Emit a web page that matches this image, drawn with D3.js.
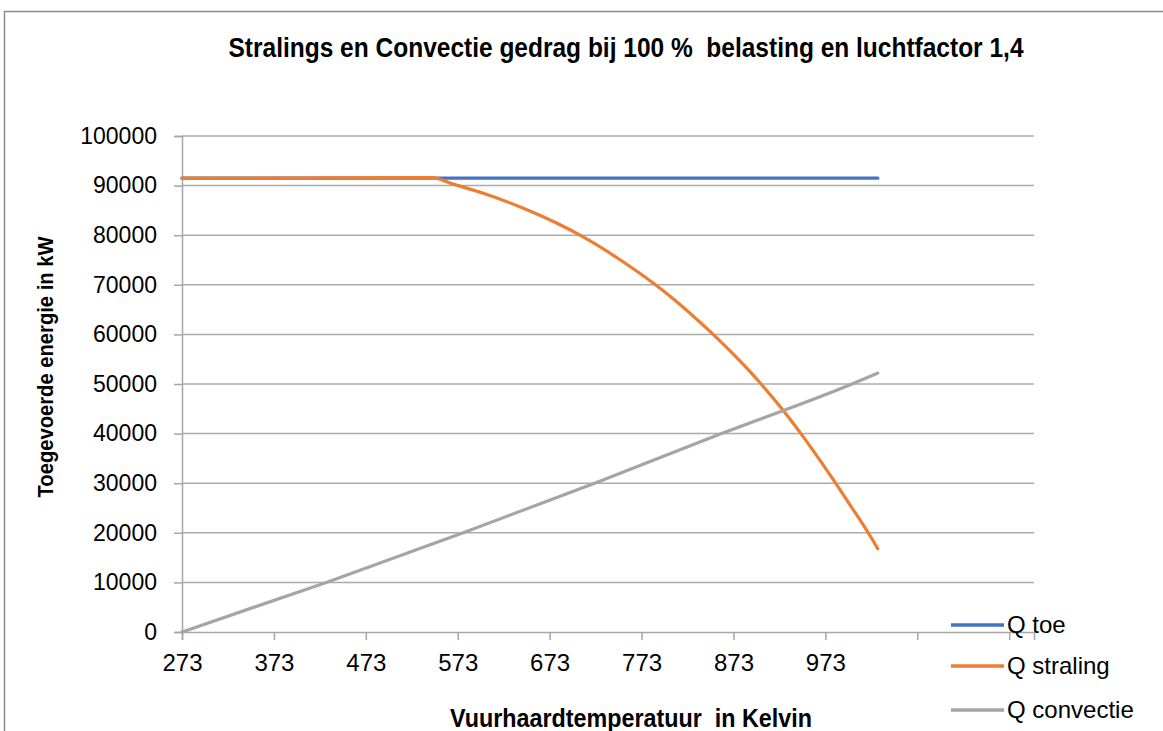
<!DOCTYPE html>
<html lang="nl">
<head>
    <meta charset="utf-8">
    <script src='https://d3js.org/d3.v7.min.js'></script>
</head>
<style>
  body { margin: 0; background: #fff; }
  svg text { fill: #000; }
</style>
<body>
<script>
// Size of the picture
const width = 1163; const height = 731;

// Data (temperature in Kelvin, energy in kW)
const toeTemp = [273, 1030];
const toeValue = [91500, 91500];

const stralingTemp = [273, 545, 568, 600, 641, 680, 710, 750, 786, 804, 848, 875, 904, 927, 946, 982, 1000, 1022, 1030];
const stralingValue = [91500, 91600, 90300, 88500, 85700, 82500, 79600, 75000, 70300, 67700, 60500, 55600, 49800, 44700, 40100, 30600, 25600, 19300, 16800];

const convectieTemp = [273, 430, 579, 722, 860, 1002, 1030];
const convectieValue = [0, 10000, 20000, 30000, 40000, 50000, 52200];

const xTicks = [273, 373, 473, 573, 673, 773, 873, 973, 1073, 1173];
const xLabelled = [273, 373, 473, 573, 673, 773, 873, 973];
const yTicks = d3.range(0, 100001, 10000);

const seriesNames = ["Q toe", "Q straling", "Q convectie"];
const seriesColors = ["#4472C4", "#ED7D31", "#A5A5A5"];

const title = "Stralings en Convectie gedrag bij 100 %  belasting en luchtfactor 1,4";
const xTitle = "Vuurhaardtemperatuur  in Kelvin";
const yTitle = "Toegevoerde energie in kW";

const svg = d3.select("body")
  .append("svg")
  .attr("width", width)
  .attr("height", height);

// chart frame
svg.append("path")
  .attr("d", "M4.5," + height + "V11.5H" + width)
  .attr("fill", "none")
  .attr("stroke", "#8c8c8c")
  .attr("stroke-width", 1.5);

// scales
const x = d3.scaleLinear().domain([273, 1200]).range([182, 1034]);
const y = d3.scaleLinear().domain([0, 100000]).range([632, 136]);

// horizontal gridlines
svg.append("g")
  .selectAll("line")
  .data(yTicks.filter(d => d > 0))
  .enter()
  .append("line")
  .attr("x1", x.range()[0])
  .attr("x2", x.range()[1])
  .attr("y1", d => y(d))
  .attr("y2", d => y(d))
  .attr("stroke", "#ababab")
  .attr("stroke-width", 1.5);

// y axis
const yAxis = svg.append("g")
  .attr("transform", "translate(" + x.range()[0] + ",0)")
  .call(d3.axisLeft(y).tickValues(yTicks).tickSize(8).tickPadding(17).tickFormat(d3.format("d")));
yAxis.selectAll("text")
  .style("font-family", "'Liberation Sans', Arial, sans-serif")
  .style("font-size", "23px")
  .attr("fill", "#000");

// x axis
const xAxis = svg.append("g")
  .attr("transform", "translate(0," + y(0) + ")")
  .call(d3.axisBottom(x).tickValues(xTicks).tickSize(8).tickPadding(14)
    .tickFormat(d => xLabelled.includes(d) ? d : ""));
xAxis.selectAll("text")
  .style("font-family", "'Liberation Sans', Arial, sans-serif")
  .style("font-size", "24px")
  .attr("fill", "#000");

svg.selectAll(".domain, .tick line")
  .attr("stroke", "#a6a6a6")
  .attr("stroke-width", 1.5);

// the three series
const line = d3.line()
  .curve(d3.curveMonotoneX)
  .x(d => x(d[0]))
  .y(d => y(d[1]));

const seriesData = [
  d3.zip(toeTemp, toeValue),
  d3.zip(stralingTemp, stralingValue),
  d3.zip(convectieTemp, convectieValue)
];

seriesData.forEach(function(data, i) {
  svg.append("path")
    .datum(data)
    .attr("fill", "none")
    .attr("stroke", seriesColors[i])
    .attr("stroke-width", 3.2)
    .attr("stroke-linejoin", "round")
    .attr("stroke-linecap", "round")
    .attr("d", line);
});

// legend
const legend = svg.append("g")
  .selectAll("g")
  .data(seriesNames)
  .enter()
  .append("g")
  .attr("transform", (d, i) => "translate(951," + [625, 666, 710][i] + ")");
legend.append("line")
  .attr("x1", 0).attr("x2", 53)
  .attr("stroke", (d, i) => seriesColors[i])
  .attr("stroke-width", 3.5);
legend.append("text")
  .attr("x", 56)
  .attr("dy", "0.35em")
  .style("font-family", "'Liberation Sans', Arial, sans-serif")
  .style("font-size", "24px")
  .text(d => d);

// titles
svg.append("text")
  .attr("x", 626)
  .attr("y", 57)
  .attr("text-anchor", "middle")
  .attr("textLength", 795)
  .attr("lengthAdjust", "spacingAndGlyphs")
  .style("white-space", "pre")
  .style("font-family", "'Liberation Sans', Arial, sans-serif")
  .style("font-weight", "bold")
  .style("font-size", "28px")
  .text(title);

svg.append("text")
  .attr("x", 631)
  .attr("y", 727)
  .attr("text-anchor", "middle")
  .attr("textLength", 362)
  .attr("lengthAdjust", "spacingAndGlyphs")
  .style("white-space", "pre")
  .style("font-family", "'Liberation Sans', Arial, sans-serif")
  .style("font-weight", "bold")
  .style("font-size", "25px")
  .text(xTitle);

svg.append("text")
  .attr("transform", "translate(53,367) rotate(-90)")
  .attr("text-anchor", "middle")
  .attr("textLength", 261)
  .attr("lengthAdjust", "spacingAndGlyphs")
  .style("font-family", "'Liberation Sans', Arial, sans-serif")
  .style("font-weight", "bold")
  .style("font-size", "22px")
  .text(yTitle);
</script>
</body>
</html>
